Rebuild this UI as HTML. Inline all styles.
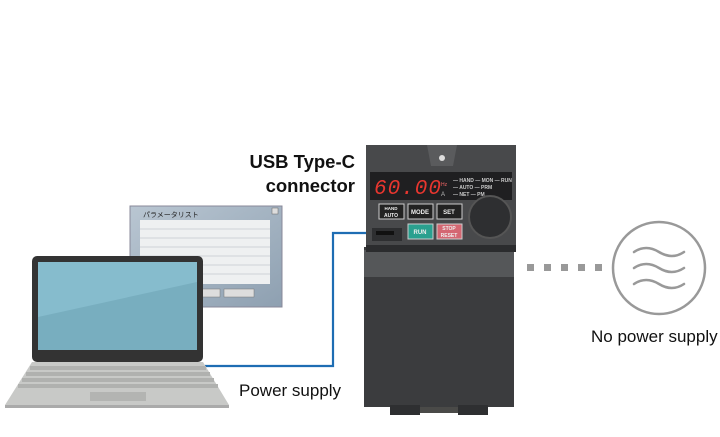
<!DOCTYPE html>
<html><head><meta charset="utf-8"><style>
body{margin:0;width:720px;height:437px;background:#fff;overflow:hidden;position:relative;font-family:"Liberation Sans","Noto Sans CJK JP",sans-serif}
.t{position:absolute;color:#111;white-space:nowrap}
</style></head><body>
<svg width="720" height="437" style="position:absolute;left:0;top:0">
<defs>
<linearGradient id="win" x1="0" y1="0" x2="1" y2="1"><stop offset="0" stop-color="#b9c6d2"/><stop offset="1" stop-color="#8ea0b1"/></linearGradient>
</defs>
<rect x="130" y="206" width="152" height="101" fill="url(#win)" stroke="#889" />
<text x="143" y="217" font-size="7" fill="#222" font-family="Noto Sans CJK JP">パラメータリスト</text>
<rect x="272" y="208" width="6" height="6" fill="#ddd" stroke="#666" stroke-width=".5"/>
<rect x="140" y="220" width="130" height="64" fill="#eef0f1"/>
<g stroke="#c4c8cc" stroke-width=".7"><line x1="140" y1="229" x2="270" y2="229"/><line x1="140" y1="238" x2="270" y2="238"/><line x1="140" y1="247" x2="270" y2="247"/><line x1="140" y1="256" x2="270" y2="256"/><line x1="140" y1="265" x2="270" y2="265"/><line x1="140" y1="274" x2="270" y2="274"/></g>
<rect x="196" y="289" width="24" height="8" fill="#ddd" stroke="#777" stroke-width=".5"/>
<rect x="224" y="289" width="30" height="8" fill="#ddd" stroke="#777" stroke-width=".5"/>
<polyline points="205,366 333,366 333,233 384,233" fill="none" stroke="#1e6db3" stroke-width="2.2"/>
<rect x="32" y="256" width="171" height="106" rx="5" fill="#333"/>
<rect x="38" y="262" width="159" height="88" fill="#86bccd"/>
<polygon points="38,317 197,282 197,350 38,350" fill="#78aebf"/>
<polygon points="32,362 203,362 229,405 5,405" fill="#c8c9c7"/>
<rect x="5" y="405" width="224" height="3" fill="#aaa"/>
<g fill="#b0b1af">
<rect x="30" y="366" width="176" height="4"/><rect x="26" y="372" width="184" height="4"/><rect x="22" y="378" width="192" height="4"/><rect x="18" y="384" width="200" height="4"/>
</g>
<rect x="90" y="392" width="56" height="9" fill="#b3b4b2"/>
<rect x="364" y="247" width="150" height="160" fill="#3b3c3e"/>
<rect x="364" y="250" width="150" height="27" fill="#555759"/>
<rect x="390" y="405" width="30" height="10" fill="#2e2f31"/>
<rect x="458" y="405" width="30" height="10" fill="#2e2f31"/>
<rect x="420" y="407" width="38" height="6" fill="#4a4a48"/>
<rect x="366" y="145" width="150" height="105" fill="#48494b"/>
<rect x="366" y="245" width="150" height="7" fill="#2b2c2e"/>
<polygon points="427,145 457,145 453,166 431,166" fill="#5a5b5d"/>
<circle cx="442" cy="158" r="3" fill="#ddd"/>
<rect x="370" y="172" width="142" height="28" fill="#1f1f21"/>
<text x="374" y="194" font-size="21" fill="#e8362f" font-family="Liberation Mono" font-style="italic" letter-spacing="1">60.00</text>
<text x="441" y="186" font-size="5" fill="#e66">Hz</text>
<text x="441" y="196" font-size="6" fill="#bbb">A</text>
<g font-size="5" fill="#ccc" font-weight="bold"><text x="453" y="182">— HAND — MON — RUN</text><text x="453" y="189">— AUTO — PRM</text><text x="453" y="196">— NET — PM</text></g>
<g font-size="6" fill="#eee" font-weight="bold" text-anchor="middle">
<rect x="379" y="204" width="25" height="15" fill="#222" stroke="#ccc"/><text x="391" y="210" font-size="4.5">HAND</text><text x="391" y="217" font-size="5">AUTO</text>
<rect x="408" y="204" width="25" height="15" fill="#222" stroke="#ccc"/><text x="420" y="214">MODE</text>
<rect x="437" y="204" width="25" height="15" fill="#222" stroke="#ccc"/><text x="449" y="214">SET</text>
<rect x="408" y="224" width="25" height="15" fill="#2aa08f" stroke="#ccc"/><text x="420" y="234">RUN</text>
<rect x="437" y="224" width="25" height="15" fill="#d46772" stroke="#ccc"/><text x="449" y="230" font-size="5">STOP</text><text x="449" y="237" font-size="5">RESET</text>
</g>
<circle cx="490" cy="217" r="21" fill="#2e2f31" stroke="#555" stroke-width="2"/>
<rect x="372" y="228" width="30" height="13" fill="#2e2f31"/>
<rect x="376" y="231" width="18" height="4" fill="#111"/>
<g fill="#999"><rect x="527" y="264" width="7" height="7"/><rect x="544" y="264" width="7" height="7"/><rect x="561" y="264" width="7" height="7"/><rect x="578" y="264" width="7" height="7"/><rect x="595" y="264" width="7" height="7"/></g>
<circle cx="659" cy="268" r="46" fill="none" stroke="#999" stroke-width="2.5"/>
<g fill="none" stroke="#999" stroke-width="2.5" stroke-linecap="round">
<path d="M634,252 q12,-8 25,0 t25,0"/><path d="M634,268 q12,-8 25,0 t25,0"/><path d="M634,284 q12,-8 25,0 t25,0"/>
</g>
</svg>
<div class="t" style="right:365px;top:150px;font-size:18.5px;font-weight:bold;text-align:right;line-height:24px">USB Type-C<br>connector</div>
<div class="t" style="left:239px;top:381px;font-size:17px">Power supply</div>
<div class="t" style="left:591px;top:327px;font-size:17px">No power supply</div>
</body></html>
